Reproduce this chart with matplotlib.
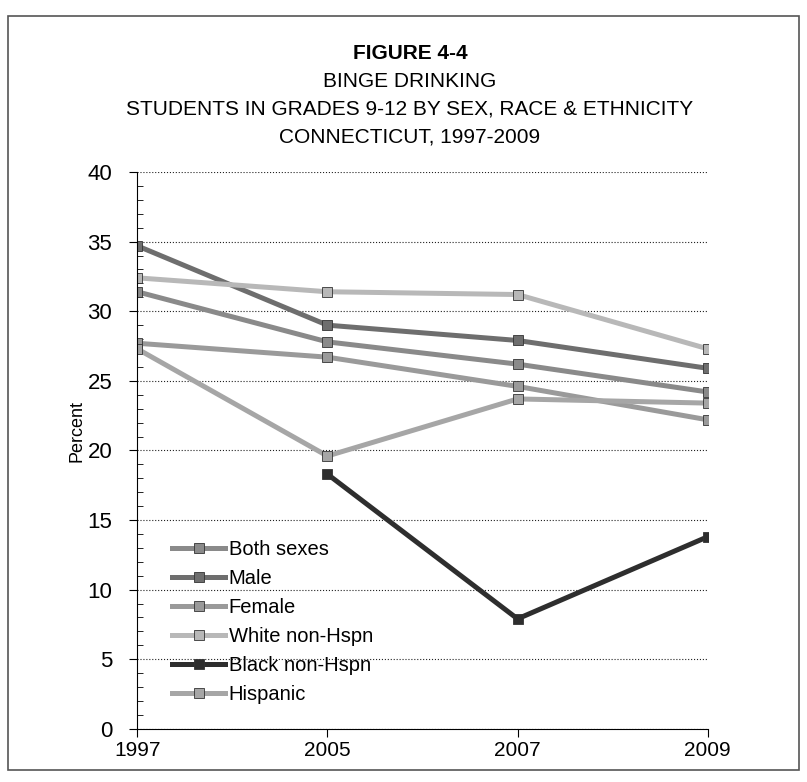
import numpy as np
import matplotlib.pyplot as plt
from matplotlib.patches import Rectangle
from matplotlib.ticker import MultipleLocator

plt.rcParams['font.family'] = ['Liberation Sans', 'DejaVu Sans']

#%%

years = ['1997', '2005', '2007', '2009']

both_sexes = [31.4, 27.8, 26.2, 24.2]
male = [34.7, 29.0, 27.9, 25.9]
female = [27.7, 26.7, 24.6, 22.2]
white = [32.4, 31.4, 31.2, 27.3]
black = [np.nan, 18.3, 7.9, 13.8]
hispanic = [27.3, 19.6, 23.7, 23.4]

names = ['Both sexes', 'Male', 'Female', 'White non-Hspn', 'Black non-Hspn', 'Hispanic']
colours = ['#8a8a8a', '#6e6e6e', '#9a9a9a', '#b8b8b8', '#2e2e2e', '#a6a6a6']

#%%

fig = plt.figure(figsize=(8.07, 7.82), dpi=100)
ax = fig.add_axes([0.170, 0.068, 0.707, 0.712])

x = np.arange(len(years))
for vals, name, col in zip([both_sexes, male, female, white, black, hispanic], names, colours):
    ax.plot(x, vals, color=col, linewidth=3.6, marker='s', markersize=7,
            markerfacecolor=col, markeredgecolor='#333333', markeredgewidth=0.6,
            label=name)

ax.set_ylim(0, 40)
ax.set_xlim(0, 3)
ax.set_xticks(x)
ax.set_xticklabels(years)
ax.yaxis.set_major_locator(MultipleLocator(5))
ax.yaxis.set_minor_locator(MultipleLocator(1))
ax.tick_params(axis='y', which='major', labelsize=16, length=6, direction='out', pad=12)
ax.tick_params(axis='y', which='minor', length=4, direction='in')
ax.tick_params(axis='x', labelsize=15, length=6, direction='out', pad=3)
ax.grid(axis='y', which='major', linestyle=':', color='#222222', linewidth=0.8)
ax.set_axisbelow(True)
ax.spines['top'].set_visible(False)
ax.spines['right'].set_visible(False)
ax.set_ylabel('Percent', fontsize=13)
ax.yaxis.set_label_coords(-0.09, 0.535)

ax.legend(loc='lower left', bbox_to_anchor=(0.03, 0.012), frameon=False,
          fontsize=14.5, handlelength=2.6, labelspacing=0.5, handletextpad=0.2)

# titles
fig.text(0.508, 0.925, 'FIGURE 4-4', ha='center', fontsize=15, fontweight='bold')
fig.text(0.508, 0.889, 'BINGE DRINKING', ha='center', fontsize=15)
fig.text(0.508, 0.853, 'STUDENTS IN GRADES 9-12 BY SEX, RACE & ETHNICITY', ha='center', fontsize=15)
fig.text(0.508, 0.818, 'CONNECTICUT, 1997-2009', ha='center', fontsize=15)

# outer border
fig.patches.append(Rectangle((0.010, 0.015), 0.980, 0.965, transform=fig.transFigure,
                             fill=False, edgecolor='#555555', linewidth=1.2))

plt.savefig('out.png', dpi=100)
